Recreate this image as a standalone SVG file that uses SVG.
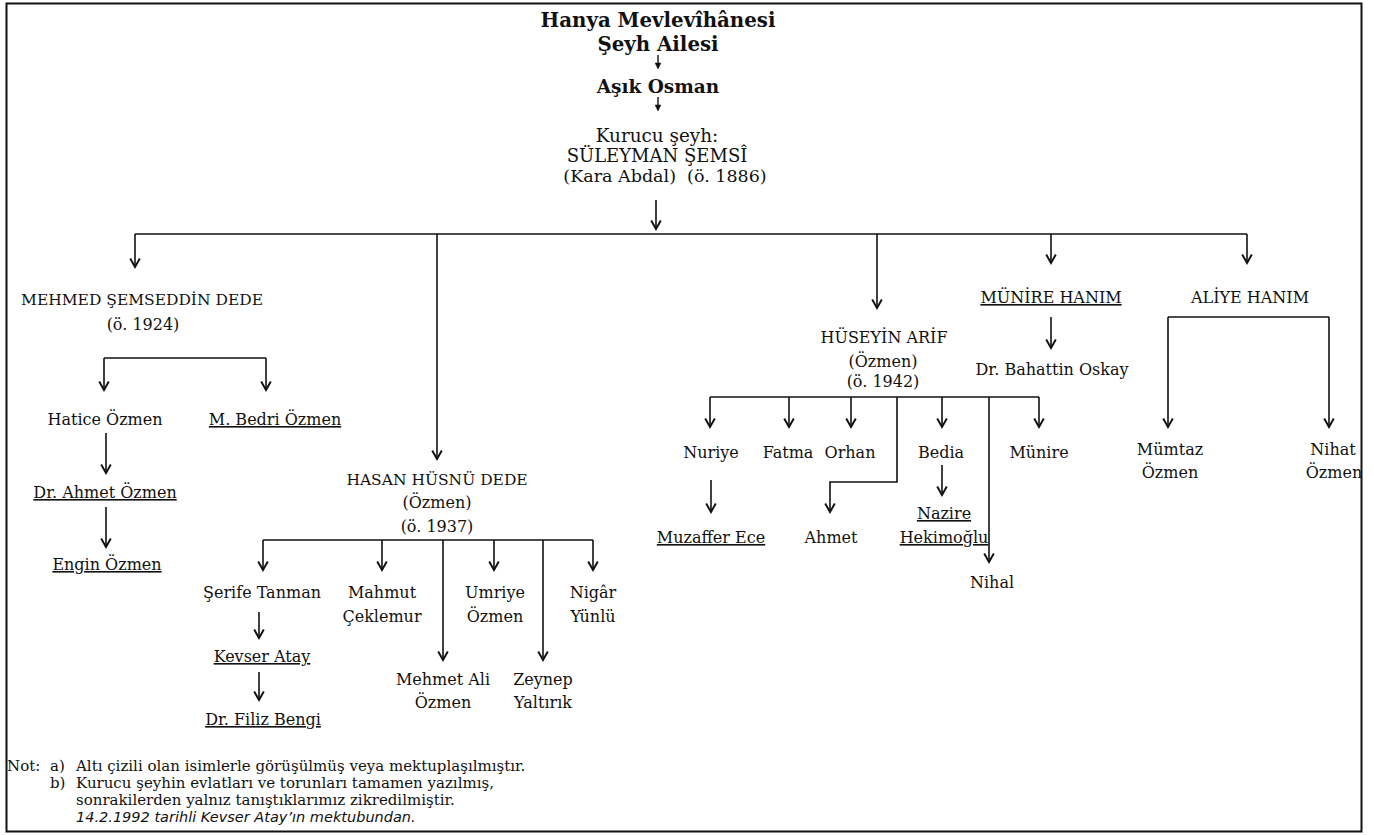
<svg xmlns="http://www.w3.org/2000/svg" width="1374" height="835" viewBox="0 0 1374 835">
<style>
  .t { font-family: "DejaVu Serif", "Liberation Serif", serif; font-size: 16px; fill: #111; text-anchor: middle; }
  .c { font-size: 15.5px; }
  .b { font-weight: bold; }
  .u { text-decoration: underline; }
  .n { font-family: "DejaVu Serif", "Liberation Serif", serif; font-size: 15px; fill: #111; }
  .i { font-family: "DejaVu Sans", "Liberation Sans", sans-serif; font-size: 14.5px; font-style: italic; fill: #111; }
  .ln { fill: none; stroke: #111; stroke-width: 1.6; }
  .ar { fill: none; stroke: #111; stroke-width: 1.6; marker-end: url(#arr); }
  .sa { fill: none; stroke: #111; stroke-width: 1.4; marker-end: url(#sarr); }
</style>
<defs>
  <marker id="arr" markerUnits="userSpaceOnUse" markerWidth="12" markerHeight="12" refX="8" refY="5" orient="auto" viewBox="0 0 10 10">
    <path d="M1,1 L8,5 L1,9" fill="none" stroke="#111" stroke-width="1.6"/>
  </marker>
  <marker id="sarr" markerUnits="userSpaceOnUse" markerWidth="7" markerHeight="7" refX="8" refY="5" orient="auto" viewBox="0 0 10 10">
    <path d="M1,1 L9,5 L1,9 Z" fill="#111" stroke="#111" stroke-width="1"/>
  </marker>
</defs>
<rect x="0" y="0" width="1374" height="835" fill="#fff"/>
<rect id="frame" x="6.5" y="3.5" width="1355" height="828" fill="none" stroke="#111" stroke-width="2"/>

<g id="connectors">
  <path class="sa" d="M658,55 V68"/>
  <path class="sa" d="M658,97 V110"/>
  <path class="ar" d="M656,200 V229"/>
  <path class="ln" d="M135,234 H1247"/>
  <path class="ar" d="M135,234 V267"/>
  <path class="ar" d="M437,234 V459"/>
  <path class="ar" d="M877,234 V308"/>
  <path class="ar" d="M1051,234 V263"/>
  <path class="ar" d="M1247,234 V263"/>
  <path class="ln" d="M104,358 H266"/>
  <path class="ar" d="M104,358 V390"/>
  <path class="ar" d="M266,358 V390"/>
  <path class="ar" d="M106,433 V473"/>
  <path class="ar" d="M106,507 V547"/>
  <path class="ln" d="M263,540 H593"/>
  <path class="ar" d="M263,540 V570"/>
  <path class="ar" d="M382,540 V570"/>
  <path class="ar" d="M443,540 V660"/>
  <path class="ar" d="M494,540 V570"/>
  <path class="ar" d="M543,540 V660"/>
  <path class="ar" d="M593,540 V570"/>
  <path class="ar" d="M259,612 V638"/>
  <path class="ar" d="M259,672 V700"/>
  <path class="ln" d="M710,397 H1039"/>
  <path class="ar" d="M710,397 V427"/>
  <path class="ar" d="M789,397 V427"/>
  <path class="ar" d="M851,397 V427"/>
  <path class="ar" d="M897,397 V482 H830 V512"/>
  <path class="ar" d="M942,397 V427"/>
  <path class="ar" d="M989,397 V562"/>
  <path class="ar" d="M1039,397 V427"/>
  <path class="ar" d="M711,480 V512"/>
  <path class="ar" d="M942,465 V495"/>
  <path class="ar" d="M1051,317 V348"/>
  <path class="ln" d="M1168,317 H1329"/>
  <path class="ar" d="M1168,317 V427"/>
  <path class="ar" d="M1329,317 V427"/>
</g>

<g id="title">
  <text class="t b" x="658" y="27" style="font-size:19.8px">Hanya Mevlevîhânesi</text>
  <text class="t b" x="658" y="50.5" style="font-size:19.8px">Şeyh Ailesi</text>
</g>
<g id="asik-osman">
  <text class="t b" x="658" y="93" style="font-size:18.5px">Aşık Osman</text>
</g>
<g id="suleyman">
  <text class="t" x="657" y="142" style="font-size:18.4px">Kurucu şeyh:</text>
  <text class="t" x="657" y="162" style="font-size:18px">SÜLEYMAN ŞEMSÎ</text>
  <text class="t" x="665" y="182" style="font-size:17.5px" xml:space="preserve">(Kara Abdal)  (ö. 1886)</text>
</g>

<g id="mehmed">
  <text class="t c" x="142" y="305">MEHMED ŞEMSEDDİN DEDE</text>
  <text class="t" x="143" y="330">(ö. 1924)</text>
</g>
<g id="hatice"><text class="t" x="105" y="425">Hatice Özmen</text></g>
<g id="bedri"><text class="t u" x="275" y="425">M. Bedri Özmen</text></g>
<g id="ahmet-ozmen"><text class="t u" x="105" y="498">Dr. Ahmet Özmen</text></g>
<g id="engin"><text class="t u" x="107" y="570">Engin Özmen</text></g>

<g id="hasan">
  <text class="t c" x="437" y="485">HASAN HÜSNÜ DEDE</text>
  <text class="t" x="437" y="508">(Özmen)</text>
  <text class="t" x="437" y="532">(ö. 1937)</text>
</g>
<g id="serife"><text class="t" x="262" y="598">Şerife Tanman</text></g>
<g id="kevser"><text class="t u" x="262" y="662">Kevser Atay</text></g>
<g id="filiz"><text class="t u" x="263" y="725">Dr. Filiz Bengi</text></g>
<g id="mahmut">
  <text class="t" x="382" y="598">Mahmut</text>
  <text class="t" x="382" y="622">Çeklemur</text>
</g>
<g id="umriye">
  <text class="t" x="495" y="598">Umriye</text>
  <text class="t" x="495" y="622">Özmen</text>
</g>
<g id="nigar">
  <text class="t" x="593" y="598">Nigâr</text>
  <text class="t" x="593" y="622">Yünlü</text>
</g>
<g id="mehmet-ali">
  <text class="t" x="443" y="685">Mehmet Ali</text>
  <text class="t" x="443" y="708">Özmen</text>
</g>
<g id="zeynep">
  <text class="t" x="543" y="685">Zeynep</text>
  <text class="t" x="543" y="708">Yaltırık</text>
</g>

<g id="huseyin">
  <text class="t" x="884" y="343">HÜSEYİN ARİF</text>
  <text class="t" x="883" y="367">(Özmen)</text>
  <text class="t" x="883" y="387">(ö. 1942)</text>
</g>
<g id="nuriye"><text class="t" x="711" y="458">Nuriye</text></g>
<g id="fatma"><text class="t" x="788" y="458">Fatma</text></g>
<g id="orhan"><text class="t" x="850" y="458">Orhan</text></g>
<g id="bedia"><text class="t" x="941" y="458">Bedia</text></g>
<g id="munire"><text class="t" x="1039" y="458">Münire</text></g>
<g id="muzaffer"><text class="t u" x="711" y="543">Muzaffer Ece</text></g>
<g id="ahmet"><text class="t" x="831" y="543">Ahmet</text></g>
<g id="nazire">
  <text class="t u" x="944" y="519">Nazire</text>
  <text class="t u" x="944" y="543">Hekimoğlu</text>
</g>
<g id="nihal"><text class="t" x="992" y="588">Nihal</text></g>

<g id="munire-hanim"><text class="t u" x="1051" y="303">MÜNİRE HANIM</text></g>
<g id="bahattin"><text class="t" x="1052" y="375">Dr. Bahattin Oskay</text></g>

<g id="aliye"><text class="t" x="1250" y="303">ALİYE HANIM</text></g>
<g id="mumtaz">
  <text class="t" x="1170" y="455">Mümtaz</text>
  <text class="t" x="1170" y="478">Özmen</text>
</g>
<g id="nihat">
  <text class="t" x="1333" y="455">Nihat</text>
  <text class="t" x="1334" y="478">Özmen</text>
</g>

<g id="note">
  <text class="n" x="7" y="771">Not:</text>
  <text class="n" x="50" y="771">a)</text>
  <text class="n" x="76" y="771">Altı çizili olan isimlerle görüşülmüş veya mektuplaşılmıştır.</text>
  <text class="n" x="50" y="788">b)</text>
  <text class="n" x="76" y="788">Kurucu şeyhin evlatları ve torunları tamamen yazılmış,</text>
  <text class="n" x="76" y="805">sonrakilerden yalnız tanıştıklarımız zikredilmiştir.</text>
  <text class="i" x="76" y="822">14.2.1992 tarihli Kevser Atay’ın mektubundan.</text>
</g>
</svg>
